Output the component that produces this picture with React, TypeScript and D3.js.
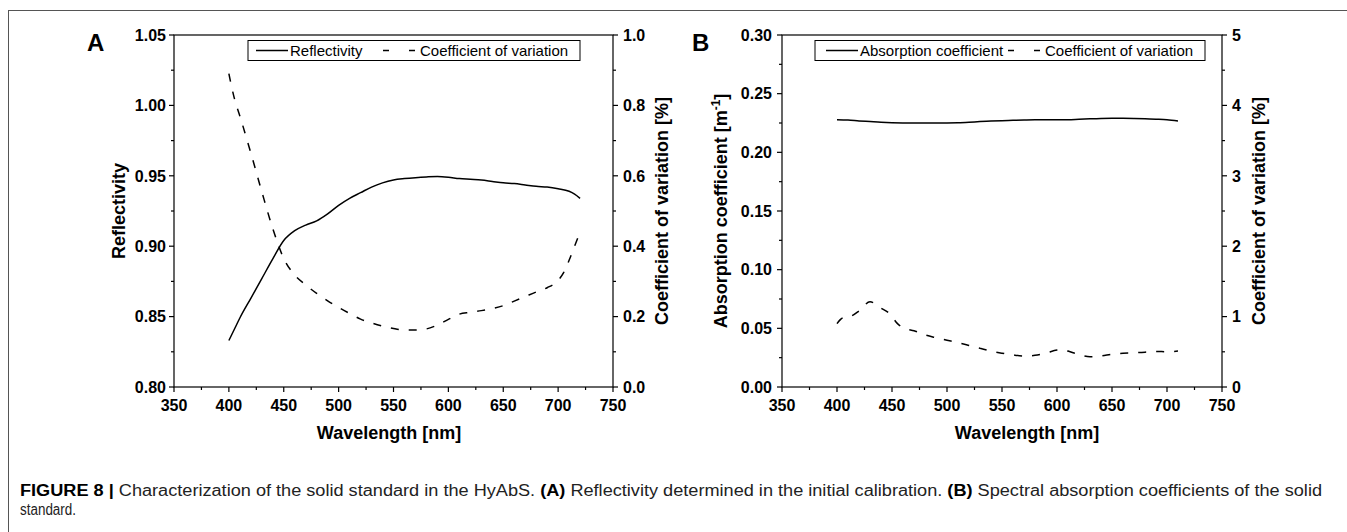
import React from 'react';
import * as d3 from 'd3';

// ---------- DATA ----------
const wlReflect = [400, 405, 410, 420, 430, 440, 450, 460, 470, 480, 490, 500, 510, 520, 530, 540, 550, 560, 570, 580, 590, 600, 610, 620, 630, 640, 650, 660, 670, 680, 690, 700, 710, 715, 720];
const reflectivity = [0.833, 0.841, 0.849, 0.863, 0.877, 0.891, 0.904, 0.911, 0.915, 0.918, 0.923, 0.929, 0.934, 0.938, 0.942, 0.945, 0.947, 0.948, 0.9487, 0.9492, 0.9495, 0.949, 0.948, 0.9475, 0.947, 0.946, 0.945, 0.9445, 0.9435, 0.9425, 0.942, 0.9408, 0.939, 0.937, 0.934];

const wlCvA = [400, 402, 405, 410, 420, 430, 440, 450, 460, 470, 480, 490, 500, 510, 520, 530, 540, 550, 560, 570, 580, 590, 600, 610, 620, 630, 640, 650, 660, 670, 680, 690, 700, 705, 710, 715, 720];
const cvA = [0.89, 0.86, 0.82, 0.77, 0.665, 0.555, 0.45, 0.365, 0.318, 0.29, 0.266, 0.245, 0.226, 0.209, 0.193, 0.182, 0.173, 0.166, 0.162, 0.162, 0.165, 0.176, 0.192, 0.207, 0.212, 0.217, 0.223, 0.231, 0.244, 0.257, 0.27, 0.282, 0.303, 0.325, 0.36, 0.4, 0.44];

const wlAbs = [400, 410, 420, 430, 440, 450, 460, 470, 480, 490, 500, 510, 520, 530, 540, 550, 560, 570, 580, 590, 600, 610, 620, 630, 640, 650, 660, 670, 680, 690, 700, 710];
const absorption = [0.2278, 0.2275, 0.2268, 0.2262, 0.2256, 0.2252, 0.225, 0.2249, 0.225, 0.225, 0.2251, 0.2253, 0.2257, 0.2262, 0.2266, 0.227, 0.2273, 0.2276, 0.2278, 0.2278, 0.2277, 0.2278, 0.2282, 0.2286, 0.2289, 0.229, 0.229, 0.2289, 0.2287, 0.2283, 0.2278, 0.2268];

const wlCvB = [400, 405, 412, 420, 430, 440, 448, 455, 462, 470, 480, 490, 500, 510, 520, 530, 540, 550, 560, 570, 580, 590, 600, 605, 610, 620, 630, 640, 650, 660, 670, 680, 690, 700, 710];
const cvB = [0.9, 0.98, 1.0, 1.08, 1.21, 1.12, 1.04, 0.9, 0.83, 0.8, 0.74, 0.7, 0.665, 0.63, 0.59, 0.55, 0.51, 0.48, 0.455, 0.44, 0.45, 0.48, 0.525, 0.53, 0.51, 0.46, 0.43, 0.44, 0.465, 0.48, 0.485, 0.495, 0.505, 0.5, 0.51];

const xTicks = [350, 400, 450, 500, 550, 600, 650, 700, 750];
const aLeftTicks = [0.8, 0.85, 0.9, 0.95, 1.0, 1.05];
const aRightTicks = [0, 0.2, 0.4, 0.6, 0.8, 1.0];
const bLeftTicks = [0, 0.05, 0.1, 0.15, 0.2, 0.25, 0.3];
const bRightTicks = [0, 1, 2, 3, 4, 5];

const FONT = '"Liberation Sans", Arial, Helvetica, sans-serif';

type Pt = [number, number];
const zip = (xs: number[], ys: number[]): Pt[] => xs.map((x, i) => [x, ys[i]]);
const mids = (t: number[]) => d3.pairs(t).map(([a, b]) => (a + b) / 2);

interface Legend { x: number; w: number; solidX: number; dashX: number; dashText: number; }
interface PanelProps {
  left: number; right: number; top: number; bottom: number;
  leftTicks: number[]; rightTicks: number[];
  leftFmt: (v: number) => string; rightFmt: (v: number) => string;
  solid: Pt[]; dashed: Pt[];
  letter: string; letterX: number;
  leftTitle: React.ReactNode; leftTitleX: number;
  rightTitleX: number; xTitleX: number;
  leftLabelOff: number;
  legend: Legend;
  solidName: string;
}

function Panel(p: PanelProps) {
  const x = d3.scaleLinear().domain([350, 750]).range([p.left, p.right]);
  const yl = d3.scaleLinear().domain([p.leftTicks[0], p.leftTicks[p.leftTicks.length - 1]]).range([p.bottom, p.top]);
  const yr = d3.scaleLinear().domain([p.rightTicks[0], p.rightTicks[p.rightTicks.length - 1]]).range([p.bottom, p.top]);
  const lineL = d3.line<Pt>().x(d => x(d[0])).y(d => yl(d[1])).curve(d3.curveMonotoneX);
  const lineR = d3.line<Pt>().x(d => x(d[0])).y(d => yr(d[1])).curve(d3.curveMonotoneX);
  const cy = (p.top + p.bottom) / 2;
  const ax = { stroke: '#000', strokeWidth: 1.2 };
  const lg = p.legend;
  const ly = 50.5;
  const TF = 16;
  return (
    <g>
      <rect x={p.left} y={p.top} width={p.right - p.left} height={p.bottom - p.top} fill="none" {...ax} />
      {xTicks.map(t => (
        <g key={'x' + t}>
          <line x1={x(t)} x2={x(t)} y1={p.bottom} y2={p.bottom + 5} {...ax} />
          <text x={x(t)} y={p.bottom + 24} textAnchor="middle" fontSize={TF} fontWeight="bold" fontFamily={FONT}>{t}</text>
        </g>
      ))}
      {mids(xTicks).map(t => <line key={'xm' + t} x1={x(t)} x2={x(t)} y1={p.bottom} y2={p.bottom + 3} {...ax} />)}
      {p.leftTicks.map(t => (
        <g key={'l' + t}>
          <line x1={p.left - 5} x2={p.left} y1={yl(t)} y2={yl(t)} {...ax} />
          <text x={p.left - p.leftLabelOff} y={yl(t)} dy="0.36em" textAnchor="end" fontSize={TF} fontWeight="bold" fontFamily={FONT}>{p.leftFmt(t)}</text>
        </g>
      ))}
      {mids(p.leftTicks).map(t => <line key={'lm' + t} x1={p.left - 3} x2={p.left} y1={yl(t)} y2={yl(t)} {...ax} />)}
      {p.rightTicks.map(t => (
        <g key={'r' + t}>
          <line x1={p.right} x2={p.right + 5} y1={yr(t)} y2={yr(t)} {...ax} />
          <text x={p.right + 10} y={yr(t)} dy="0.36em" textAnchor="start" fontSize={TF} fontWeight="bold" fontFamily={FONT}>{p.rightFmt(t)}</text>
        </g>
      ))}
      {mids(p.rightTicks).map(t => <line key={'rm' + t} x1={p.right} x2={p.right + 3} y1={yr(t)} y2={yr(t)} {...ax} />)}
      <path d={lineL(p.solid) || ''} fill="none" stroke="#000" strokeWidth={1.5} />
      <path d={lineR(p.dashed) || ''} fill="none" stroke="#000" strokeWidth={1.5} strokeDasharray="8,10" />
      <rect x={lg.x} y={40.5} width={lg.w} height={20} fill="#fff" stroke="#000" strokeWidth={1} />
      <line x1={lg.solidX} x2={lg.solidX + 32} y1={ly} y2={ly} stroke="#000" strokeWidth={1.5} />
      <text x={lg.solidX + 34} y={ly + 5.5} fontSize={15} fontFamily={FONT}>{p.solidName}</text>
      <line x1={lg.dashX} x2={lg.dashX + 32} y1={ly} y2={ly} stroke="#000" strokeWidth={1.5} strokeDasharray="6,20" />
      <text x={lg.dashText} y={ly + 5.5} fontSize={15} fontFamily={FONT}>Coefficient of variation</text>
      <text x={p.letterX} y={51} fontSize={24} fontWeight="bold" fontFamily={FONT}>{p.letter}</text>
      <text transform={`translate(${p.leftTitleX},${cy}) rotate(-90)`} textAnchor="middle" fontSize={18} fontWeight="bold" fontFamily={FONT}>{p.leftTitle}</text>
      <text transform={`translate(${p.rightTitleX},${cy}) rotate(-90)`} textAnchor="middle" fontSize={18} fontWeight="bold" fontFamily={FONT}>Coefficient of variation [%]</text>
      <text x={p.xTitleX} y={439} textAnchor="middle" fontSize={18} fontWeight="bold" fontFamily={FONT}>Wavelength [nm]</text>
    </g>
  );
}

export default function App() {
  const f2 = d3.format('.2f');
  const f1 = d3.format('.1f');
  const f0 = d3.format('d');
  return (
    <svg width={1347} height={532} style={{ position: 'absolute', left: 0, top: 0, background: '#fff', display: 'block' }}>
      <rect x={0} y={0} width={1347} height={532} fill="#fff" />
      <line x1={8.5} x2={8.5} y1={10} y2={532} stroke="#555" strokeWidth={1} />
      <line x1={8} x2={1347} y1={10.5} y2={10.5} stroke="#555" strokeWidth={1} />
      <Panel left={174} right={613} top={35} bottom={387}
        leftTicks={aLeftTicks} rightTicks={aRightTicks} leftFmt={f2} rightFmt={f1}
        solid={zip(wlReflect, reflectivity)} dashed={zip(wlCvA, cvA)}
        letter="A" letterX={87}
        leftTitle="Reflectivity" leftTitleX={125} rightTitleX={668} xTitleX={389}
        leftLabelOff={8}
        legend={{ x: 248, w: 332, solidX: 256, dashX: 383, dashText: 420 }}
        solidName="Reflectivity" />
      <Panel left={782} right={1222} top={35} bottom={387}
        leftTicks={bLeftTicks} rightTicks={bRightTicks} leftFmt={f2} rightFmt={f0}
        solid={zip(wlAbs, absorption)} dashed={zip(wlCvB, cvB)}
        letter="B" letterX={692}
        leftTitle={<>Absorption coefficient [m<tspan fontSize={12} dy={-7}>-1</tspan><tspan dy={7}>]</tspan></>}
        leftTitleX={727} rightTitleX={1265} xTitleX={1027}
        leftLabelOff={10}
        legend={{ x: 815, w: 390, solidX: 826, dashX: 1008, dashText: 1045 }}
        solidName="Absorption coefficient" />
      <text x={20} y={496} fontSize={16} fontFamily={FONT} fill="#222" textLength={1302} lengthAdjust="spacingAndGlyphs">
        <tspan fontWeight="bold" fill="#000">FIGURE 8</tspan>
        <tspan fontWeight="bold" fill="#000"> | </tspan>
        <tspan>Characterization of the solid standard in the HyAbS. </tspan>
        <tspan fontWeight="bold" fill="#000">(A)</tspan>
        <tspan> Reflectivity determined in the initial calibration. </tspan>
        <tspan fontWeight="bold" fill="#000">(B)</tspan>
        <tspan> Spectral absorption coefficients of the solid</tspan>
      </text>
      <text x={20} y={515} fontSize={16} fontFamily={FONT} fill="#222" textLength={56} lengthAdjust="spacingAndGlyphs">standard.</text>
    </svg>
  );
}
